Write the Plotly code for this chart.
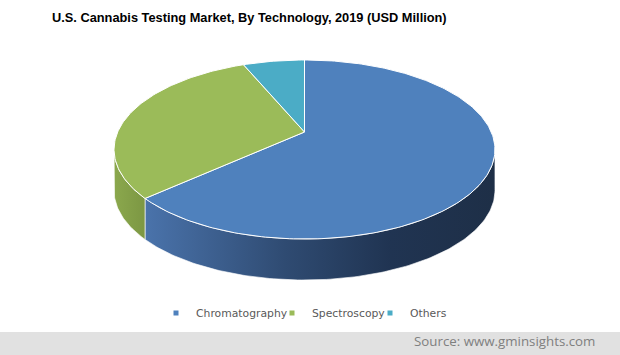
import math
import plotly.graph_objects as go

# ---- data ----
categories = ["Chromatography", "Spectroscopy", "Others"]
values = [63.3, 30.4, 6.3]
top_colors = ["#4f81bd", "#9bbb59", "#4bacc6"]
side_scales = [
    [[0, "#4a73ab"], [0.4, "#2f4b72"], [0.7, "#203452"], [1, "#1e2f47"]],
    [[0, "#8ba84d"], [1, "#7c9743"]],
    [[0, "#3f95ab"], [1, "#2f6f80"]],
]
title_text = "U.S. Cannabis Testing Market, By Technology, 2019 (USD Million)"
source_text = "Source: www.gminsights.com"

# ---- geometry of the 3D pie (pixel space) ----
W, H = 620, 355
CX, CY = 304.5, 132.0     # apex
A, B = 186.8, 86.1        # radii
K = 0.1955                # perspective factor
DEPTH = 41.0
N = 180
legend_text_x = [196, 312, 410]   # legend entry text starts (px)


def proj(t, drop=0.0):
    u, v = math.cos(t), math.sin(t)
    w = 1 + K * v
    return CX + A * u / w, CY - B * v / w + drop


def arc(t0, t1, drop=0.0):
    n = max(2, int(abs(t1 - t0) / (2 * math.pi) * N * 2))
    pts = [proj(t0 + (t1 - t0) * i / n, drop) for i in range(n + 1)]
    return [p[0] for p in pts], [p[1] for p in pts]


fig = go.Figure()

total = sum(values)
start = math.pi / 2
spans = []
for v in values:
    sweep = 2 * math.pi * v / total
    spans.append((start, start - sweep))
    start -= sweep

# visible rim: between the two extreme-x points on the front
vis_hi = -math.asin(K)
vis_lo = -math.pi + math.asin(K)

# sides
for i, (t0, t1) in enumerate(spans):
    for shift in (-2 * math.pi, 0, 2 * math.pi):
        a0, a1 = t0 + shift, t1 + shift
        hi = min(a0, vis_hi)
        lo = max(a1, vis_lo)
        if hi > lo:
            xt, yt = arc(hi, lo)
            xb, yb = arc(lo, hi, DEPTH)
            fig.add_trace(go.Scatter(
                x=xt + xb + [xt[0]], y=yt + yb + [yt[0]],
                mode="lines", fill="toself",
                fillgradient=dict(type="horizontal", colorscale=side_scales[i]),
                line=dict(color="rgba(255,255,255,0.8)", width=0.8),
                hoverinfo="skip", showlegend=False))

# top faces
for i, (t0, t1) in enumerate(spans):
    xs, ys = arc(t0, t1)
    fig.add_trace(go.Scatter(
        x=[CX] + xs + [CX], y=[CY] + ys + [CY],
        mode="lines", fill="toself", fillcolor=top_colors[i],
        line=dict(color="white", width=1),
        name=categories[i], hoverinfo="name", showlegend=False))

# legend entries (one legend per entry to control spacing)
legend_keys = ["legend", "legend2", "legend3"]
legend_layout = {}
for i, c in enumerate(categories):
    fig.add_trace(go.Scatter(
        x=[None], y=[None], mode="markers", name=c, legend=legend_keys[i],
        marker=dict(symbol="square", size=5, color=top_colors[i])))
    legend_layout[legend_keys[i]] = dict(
        orientation="h", x=(legend_text_x[i] - 40) / W, xanchor="left",
        y=1 - 313 / H, yanchor="middle",
        font=dict(family="DejaVu Sans", size=10.8, color="#595959"),
        itemwidth=30, bgcolor="rgba(0,0,0,0)", borderwidth=0)

fig.update_layout(
    width=W, height=H, autosize=False,
    margin=dict(l=0, r=0, t=0, b=0, pad=0),
    paper_bgcolor="white", plot_bgcolor="white",
    xaxis=dict(range=[0, W], visible=False, fixedrange=True),
    yaxis=dict(range=[H, 0], visible=False, fixedrange=True),
    showlegend=True,
    shapes=[dict(type="rect", xref="paper", yref="paper", x0=0, x1=1,
                 y0=0, y1=1 - 332 / H, fillcolor="#e1e1e1", line=dict(width=0),
                 layer="below")],
    annotations=[
        dict(text="<b>" + title_text + "</b>", xref="paper", yref="paper",
             x=249.5 / W, y=1 - 17.5 / H, xanchor="center", yanchor="middle",
             showarrow=False, font=dict(family="Liberation Sans", size=12.8, color="#000000")),
        dict(text=source_text, xref="paper", yref="paper",
             x=597 / W, y=1 - 340.5 / H, xanchor="right", yanchor="middle",
             showarrow=False, font=dict(family="Open Sans", size=13.3, color="#7f7f7f")),
    ],
    **legend_layout,
)

fig.write_html("out.html", config={"displayModeBar": False},
               post_script="document.body.style.margin='0';")
